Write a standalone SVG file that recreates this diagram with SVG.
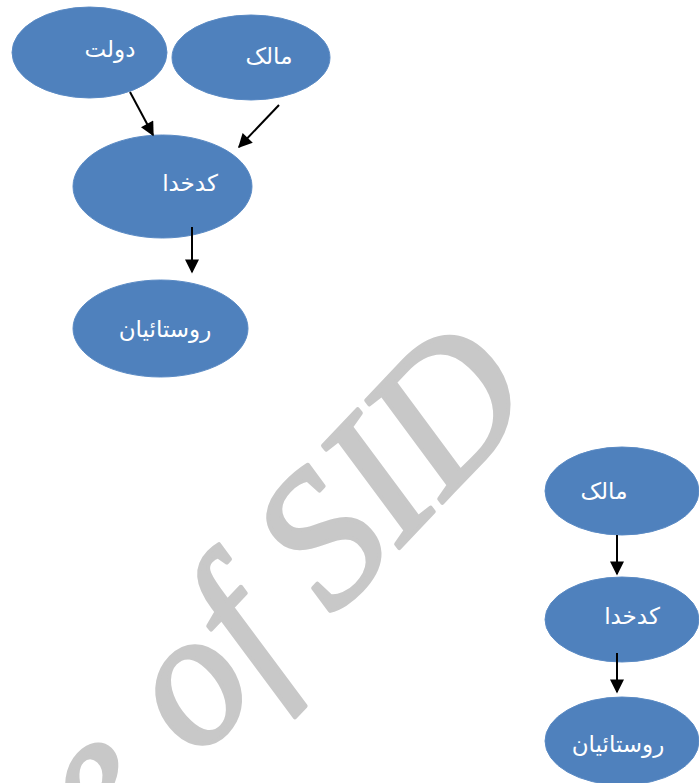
<svg xmlns="http://www.w3.org/2000/svg" width="699" height="783" viewBox="0 0 699 783">
<defs>
<style>
.node ellipse{fill:#4f81bd;stroke:#5a8ac4;stroke-width:1}
.node text{fill:#ffffff;font-family:"DejaVu Sans","Liberation Sans",sans-serif;font-size:23px;text-anchor:middle;dominant-baseline:middle}
.edge{stroke:#000;stroke-width:2;fill:none;marker-end:url(#arr)}
.wm{fill:#c8c8c8;stroke:#c8c8c8;stroke-width:4;stroke-linejoin:round;font-family:"Liberation Serif",serif;font-style:italic;font-size:192px}
</style>
<marker id="arr" viewBox="0 0 10 10" refX="9" refY="5" markerWidth="8" markerHeight="7" markerUnits="strokeWidth" orient="auto">
<path d="M0,0 L10,5 L0,10 z" fill="#000"/>
</marker>
</defs>
<rect width="699" height="783" fill="#fff"/>
<text class="wm" transform="translate(106,857) rotate(-46.5)">e of SID</text>
<g id="n_dolat" class="node"><ellipse cx="89.5" cy="52.5" rx="77.5" ry="45.5"/><text x="110" y="50">دولت</text></g>
<g id="n_malek1" class="node"><ellipse cx="251" cy="57.5" rx="79" ry="42.5"/><text x="269" y="57">مالک</text></g>
<g id="n_kadkhoda1" class="node"><ellipse cx="162.5" cy="186.5" rx="89.5" ry="51.5"/><text x="190" y="184">کدخدا</text></g>
<g id="n_rusta1" class="node"><ellipse cx="160.5" cy="328.5" rx="87.5" ry="48.5"/><text x="165" y="330">روستائیان</text></g>
<g id="n_malek2" class="node"><ellipse cx="622" cy="491" rx="77" ry="44"/><text x="604" y="492">مالک</text></g>
<g id="n_kadkhoda2" class="node"><ellipse cx="622" cy="619.5" rx="77" ry="42.5"/><text x="632" y="617">کدخدا</text></g>
<g id="n_rusta2" class="node"><ellipse cx="622" cy="741" rx="77" ry="44"/><text x="618" y="745">روستائیان</text></g>
<g id="connectors">
<line class="edge" x1="130" y1="92" x2="153" y2="135"/>
<line class="edge" x1="279" y1="105" x2="239" y2="147"/>
<line class="edge" x1="192" y1="227" x2="192" y2="272"/>
<line class="edge" x1="617" y1="535" x2="617" y2="574"/>
<line class="edge" x1="617" y1="653" x2="617" y2="692"/>
</g>
</svg>
